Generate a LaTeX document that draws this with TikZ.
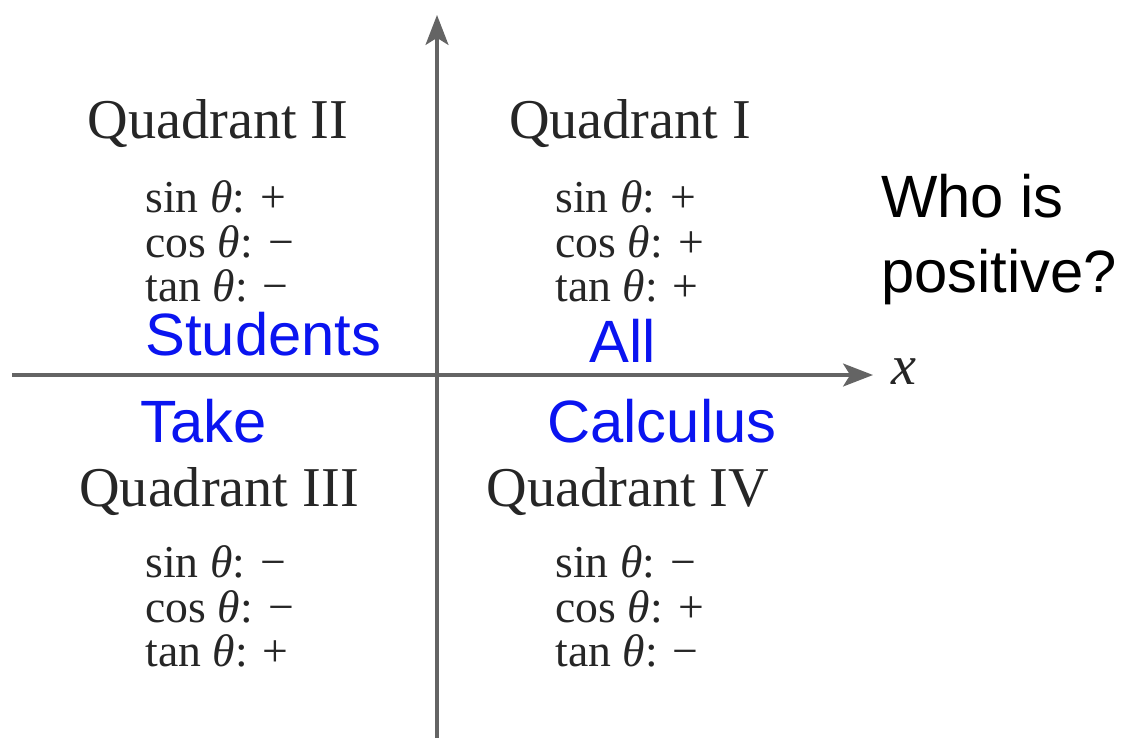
\documentclass[tikz,border=0pt]{standalone}
\usepackage{fontspec}
\setmainfont{Liberation Serif}
\setsansfont{Liberation Sans}
\usetikzlibrary{arrows.meta, positioning}
\definecolor{gris}{HTML}{646464}
\definecolor{tinta}{HTML}{262626}
\definecolor{azul}{HTML}{0A14F0}
\newcommand{\tht}{\textit{θ}}

\begin{document}
\begin{tikzpicture}[x=0.02cm, y=-0.02cm,
    eje/.style       = {draw=gris, line width=2pt,
                        -{Stealth[length=17pt,width=13pt,inset=4pt]}},
    cuadrante/.style = {font=\fontsize{32}{36}\selectfont, text=tinta,
                        inner sep=0pt, anchor=base},
    signos/.style    = {font=\fontsize{26}{25.5}\selectfont, text=tinta,
                        inner sep=0pt, align=left, anchor=north west},
    palabra/.style   = {font=\sffamily\fontsize{34}{38}\selectfont,
                        text=azul, inner sep=0pt, anchor=base west},
    pregunta/.style  = {font=\sffamily\fontsize{34}{42.5}\selectfont,
                        text=black, inner sep=0pt, align=left,
                        anchor=north west},
  ]
  \useasboundingbox (0,0) rectangle (1121,738);

  %-------------------------------------------------- ejes
  \coordinate (xi) at (12,375);
  \coordinate (xf) at (873,375);
  \coordinate (yi) at (437,738);
  \coordinate (yf) at (437,15);
  \draw[eje] (xi) -- (xf);
  \draw[eje] (yi) -- (yf);
  \node[cuadrante, anchor=west] (xlab) at (891,372) {\textit{x}};

  %-------------------------------------------------- cuadrantes
  \node[cuadrante] (QII)  at (218,138) {Quadrant II};
  \node[cuadrante] (QI)   at (630,138) {Quadrant I};
  \node[cuadrante] (QIII) at (219,506) {Quadrant III};
  \node[cuadrante] (QIV)  at (628,506) {Quadrant IV};

  %-------------------------------------------------- signos
  \node[signos] (SII)  at (145,180)
    {sin \tht: +\\cos \tht: −\\tan \tht: −};
  \node[signos] (SI)   at (555,180)
    {sin \tht: +\\cos \tht: +\\tan \tht: +};
  \node[signos] (SIII) at (145,545)
    {sin \tht: −\\cos \tht: −\\tan \tht: +};
  \node[signos] (SIV)  at (555,545)
    {sin \tht: −\\cos \tht: +\\tan \tht: −};

  %-------------------------------------------------- regla
  \node[palabra] (stu)  at (145,355) {Students};
  \node[palabra] (all)  at (589,362) {All};
  \node[palabra] (take) at (140,442) {Take};
  \node[palabra] (calc) at (547,442) {Calculus};

  \node[pregunta] (who) at (881,174) {Who is\\positive?};
\end{tikzpicture}
\end{document}
